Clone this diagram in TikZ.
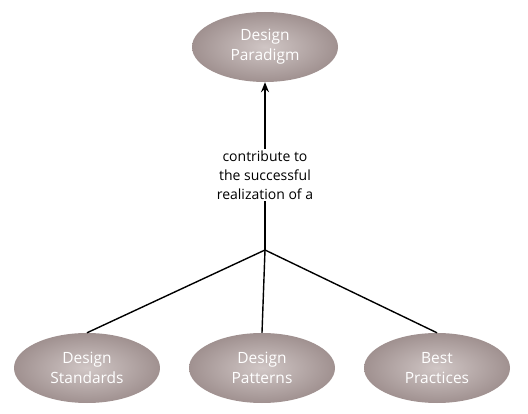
\documentclass[tikz,border=0pt]{standalone}
\usepackage{fontspec}
\setmainfont{Open Sans}
\usetikzlibrary{shapes.geometric,arrows.meta}
\definecolor{ellout}{HTML}{A09190}
\definecolor{ellin}{HTML}{D0C6C5}
\begin{document}
\begin{tikzpicture}[x=1pt,y=-1pt,
  oval/.style={ellipse, minimum width=146pt, minimum height=70pt, inner sep=0pt,
    shade, inner color=ellin, outer color=ellout, text=white,
    font=\fontsize{15.5}{20}\selectfont, align=center},
  conn/.style={line width=1.4pt, black},
  lbl/.style={font=\fontsize{14}{19}\selectfont, align=center, inner sep=1.5pt}]
\useasboundingbox (0,0) rectangle (528,414);
\node[oval] (dpar) at (265,47) {Design\\Paradigm};
\node[oval] (ds) at (87,368) {Design\\Standards};
\node[oval] (dp) at (262,368) {Design\\Patterns};
\node[oval] (bp) at (437,368) {Best\\Practices};
\node[lbl] (txt) at (265,175) {contribute to\\the successful\\realization of a};
\coordinate (junc) at (265,250);
\draw[conn] (junc) -- (txt.south);
\draw[conn, -{Stealth[length=10pt,width=8pt]}] (txt.north) -- (dpar.south);
\draw[conn] (junc) -- (ds.north);
\draw[conn] (junc) -- (dp.north);
\draw[conn] (junc) -- (bp.north);
\end{tikzpicture}
\end{document}
